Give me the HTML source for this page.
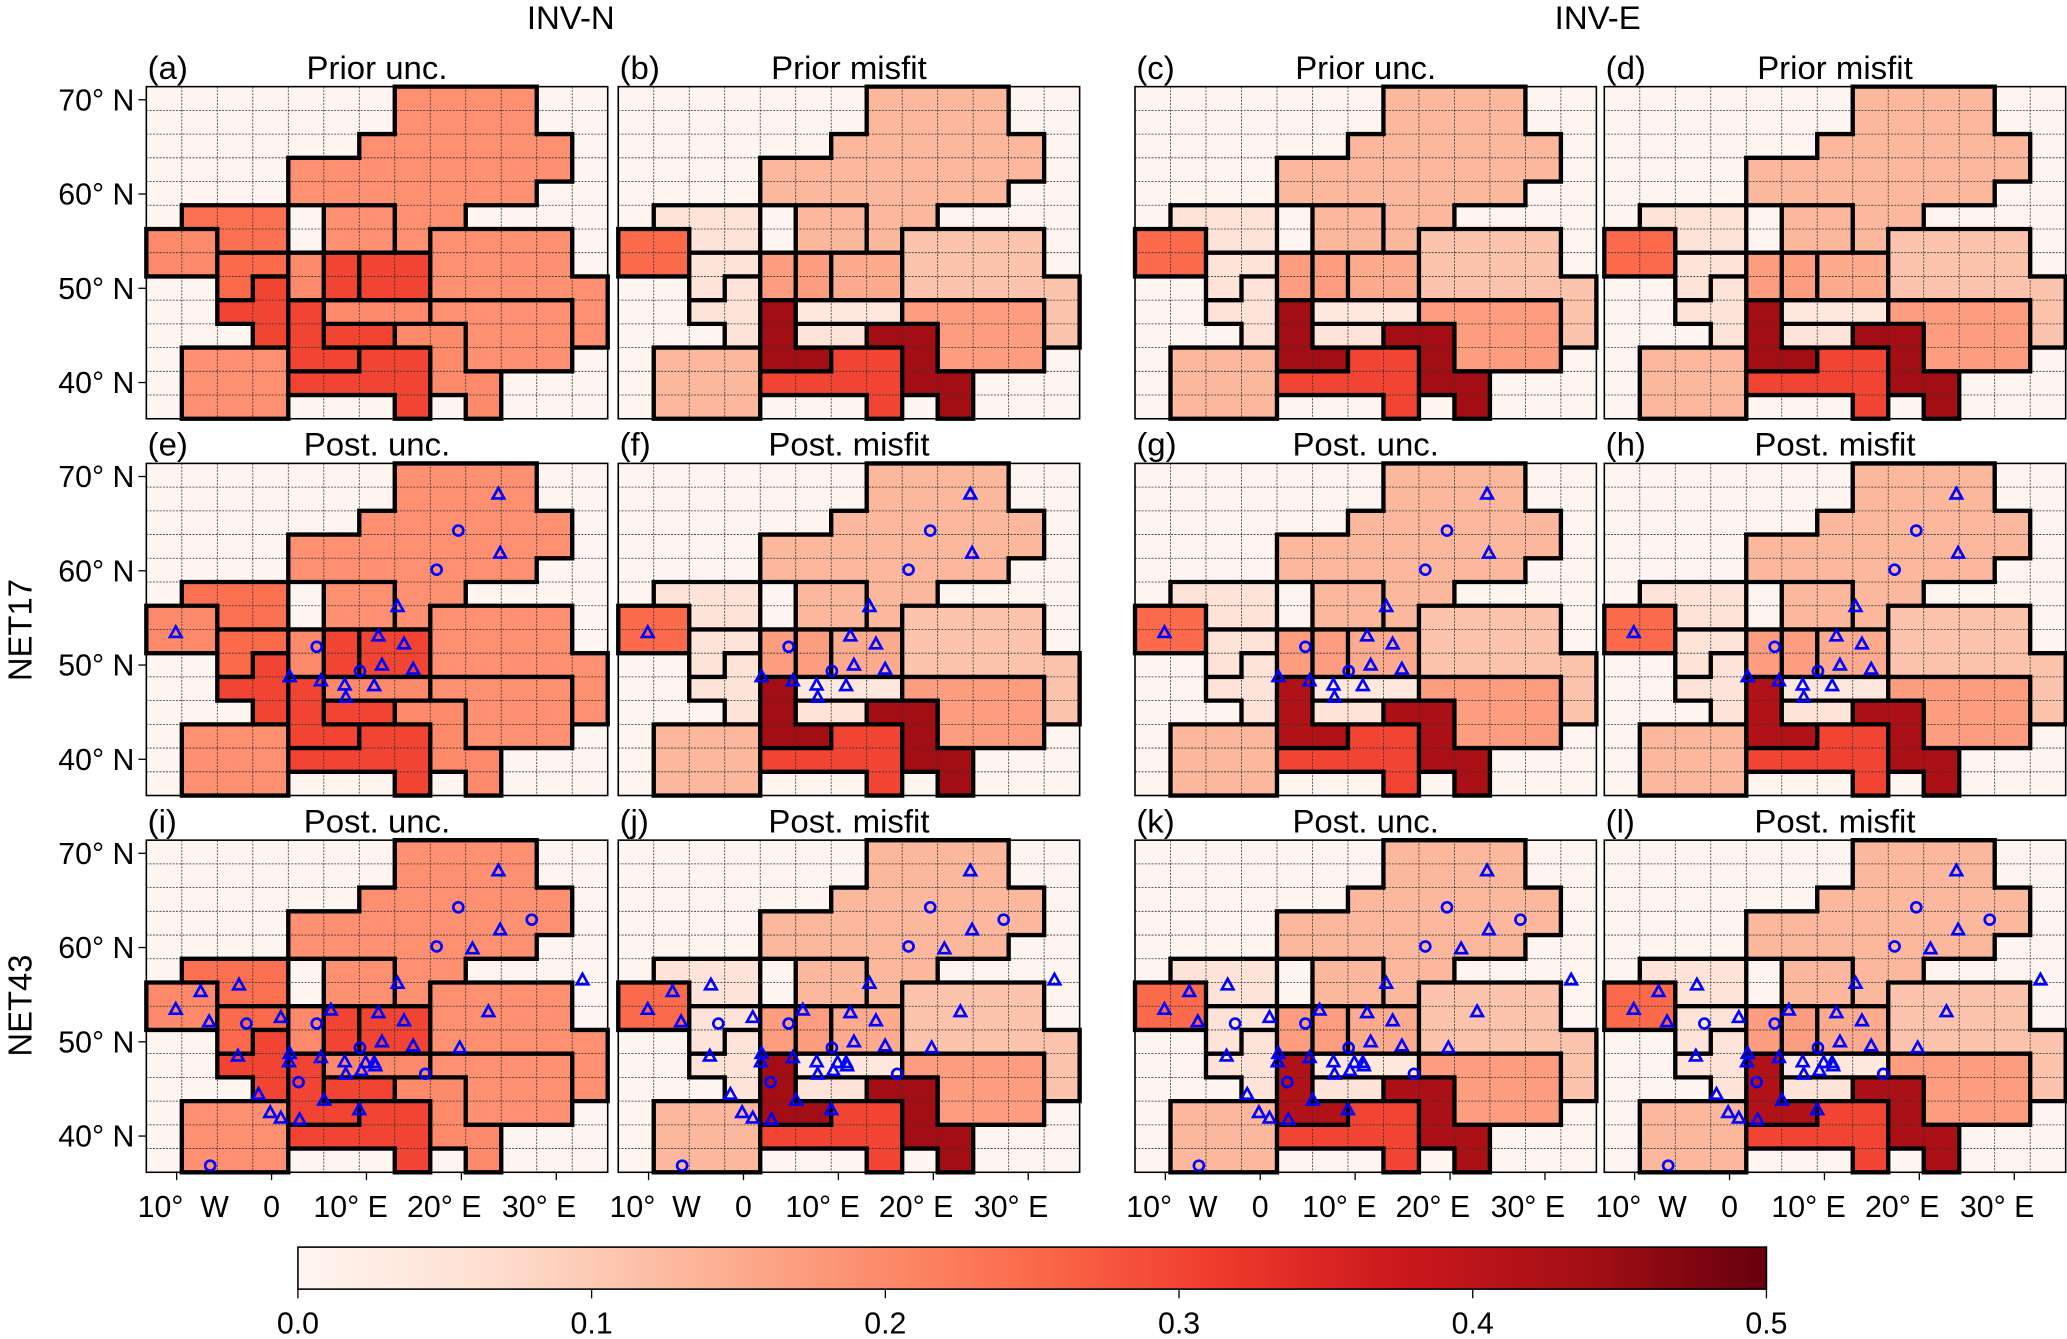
<!DOCTYPE html>
<html><head><meta charset="utf-8"><style>
html,body{margin:0;padding:0;background:#fff;}
svg{display:block;}
text{font-family:"Liberation Sans","DejaVu Sans",sans-serif;fill:#000;}
</style></head><body>
<svg id="fig" xmlns="http://www.w3.org/2000/svg" width="2067" height="1339" viewBox="0 0 1568 1020" preserveAspectRatio="none">
<defs>
<linearGradient id="reds" x1="0" x2="1" y1="0" y2="0">
<stop offset="0" stop-color="#fff5f0"/><stop offset="0.125" stop-color="#fee0d2"/><stop offset="0.25" stop-color="#fcbba1"/><stop offset="0.375" stop-color="#fc9272"/><stop offset="0.5" stop-color="#fb6a4a"/><stop offset="0.625" stop-color="#ef3b2c"/><stop offset="0.75" stop-color="#cb181d"/><stop offset="0.875" stop-color="#a50f15"/><stop offset="1" stop-color="#67000d"/>
</linearGradient>
</defs>
<text x="433" y="22" font-size="25" text-anchor="middle">INV-N</text>
<text x="1212" y="22" font-size="25" text-anchor="middle">INV-E</text>
<text transform="translate(24,480) rotate(-90)" font-size="25" text-anchor="middle">NET17</text>
<text transform="translate(24,766) rotate(-90)" font-size="25" text-anchor="middle">NET43</text>
<g id="panels"></g>
<g id="cbar"></g>
</svg>
<script>
// region names (cell spans: [row, colStart, colEnd])
const regionNames=["north","denmark","uk","ireland","south-uk","france","sw-alps","benelux","rhine","germany","alps","north-italy","italy","balkans","east","romania","iberia"];
const regionSpans=[
 [[0,7,10],[1,7,10],[2,6,11],[3,4,11],[4,4,10],[5,7,8],[6,7,7]],
 [[5,5,6],[6,5,6]],
 [[5,1,3],[6,2,3]],
 [[6,0,1],[7,0,1]],
 [[7,2,3],[8,2,2]],
 [[8,3,3],[9,2,3],[10,3,3]],
 [[9,4,4],[10,4,4],[11,4,5]],
 [[7,4,4],[8,4,4]],
 [[7,5,5],[8,5,5]],
 [[7,6,7],[8,6,7]],
 [[9,5,7]],
 [[10,5,6]],
 [[11,6,7],[12,4,7],[13,7,7]],
 [[10,7,8],[11,8,8],[12,8,9],[13,9,9]],
 [[6,8,11],[7,8,11],[8,8,12],[9,12,12],[10,12,12]],
 [[9,8,11],[10,9,11],[11,9,11]],
 [[11,1,3],[12,1,3],[13,1,3]]
];
// values per panel, region order above
const valsPriorUncN=[0.19,0.19,0.24,0.2,0.25,0.3,0.3,0.2,0.3,0.3,0.2,0.3,0.3,0.2,0.19,0.19,0.19];
const valsPriorMisfitN=[0.13,0.13,0.05,0.25,0.05,0.05,0.44,0.17,0.17,0.15,0.04,0.05,0.3,0.44,0.11,0.17,0.13];
const valsPriorUncE=[0.13,0.13,0.05,0.25,0.05,0.05,0.44,0.17,0.17,0.15,0.04,0.05,0.3,0.44,0.11,0.17,0.13];
const valsPriorMisfitE=[0.13,0.13,0.05,0.25,0.05,0.05,0.44,0.17,0.17,0.15,0.04,0.05,0.3,0.44,0.11,0.17,0.13];
const valsPostUncN17=[0.19,0.19,0.24,0.2,0.25,0.3,0.3,0.2,0.3,0.3,0.2,0.3,0.3,0.2,0.19,0.19,0.19];
const valsPostMisfitN17=[0.13,0.13,0.05,0.25,0.05,0.05,0.44,0.17,0.17,0.15,0.04,0.05,0.3,0.44,0.11,0.17,0.13];
const valsPostUncE17=[0.13,0.13,0.05,0.25,0.05,0.05,0.42,0.17,0.17,0.15,0.04,0.05,0.3,0.43,0.11,0.17,0.13];
const valsPostMisfitE17=[0.13,0.13,0.05,0.25,0.05,0.05,0.42,0.17,0.17,0.15,0.04,0.05,0.3,0.43,0.11,0.17,0.13];
const valsPostUncN43=[0.19,0.19,0.24,0.2,0.25,0.3,0.3,0.2,0.3,0.3,0.2,0.3,0.3,0.2,0.19,0.19,0.19];
const valsPostMisfitN43=[0.13,0.13,0.05,0.25,0.05,0.05,0.44,0.17,0.17,0.15,0.04,0.05,0.3,0.44,0.11,0.17,0.13];
const valsPostUncE43=[0.13,0.13,0.05,0.25,0.05,0.05,0.42,0.17,0.17,0.15,0.04,0.05,0.3,0.43,0.11,0.17,0.13];
const valsPostMisfitE43=[0.13,0.13,0.05,0.25,0.05,0.05,0.42,0.17,0.17,0.15,0.04,0.05,0.3,0.43,0.11,0.17,0.13];
// station markers: [col, row, type] in grid-cell units
const sitesNet17=[[9.92,1.3,"t"],[8.79,2.83,"c"],[9.97,3.79,"t"],[8.18,4.48,"c"],[7.08,6.04,"t"],[0.83,7.14,"t"],[4.8,7.73,"c"],[6.54,7.28,"t"],[7.26,7.62,"t"],[6.02,8.75,"c"],[6.64,8.51,"t"],[7.52,8.68,"t"],[4.04,9.0,"t"],[4.92,9.17,"t"],[5.59,9.35,"t"],[5.62,9.87,"t"],[6.42,9.38,"t"]];
const sitesNet43=[[9.92,1.3,"t"],[8.79,2.83,"c"],[10.86,3.35,"c"],[9.97,3.79,"t"],[8.18,4.48,"c"],[9.19,4.59,"t"],[12.29,5.9,"t"],[7.08,6.04,"t"],[1.53,6.39,"t"],[2.61,6.11,"t"],[0.83,7.14,"t"],[1.77,7.66,"t"],[2.82,7.73,"c"],[3.79,7.48,"t"],[4.8,7.73,"c"],[5.2,7.17,"t"],[6.54,7.28,"t"],[7.26,7.62,"t"],[9.64,7.24,"t"],[6.02,8.75,"c"],[6.64,8.51,"t"],[7.52,8.68,"t"],[8.83,8.76,"t"],[2.58,9.11,"t"],[4.04,9.0,"t"],[4.02,9.35,"t"],[4.92,9.17,"t"],[5.59,9.35,"t"],[5.62,9.87,"t"],[6.06,9.72,"t"],[6.18,9.38,"t"],[6.42,9.38,"t"],[6.45,9.52,"t"],[7.86,9.85,"c"],[4.29,10.2,"c"],[3.16,10.72,"t"],[5.01,10.97,"t"],[6.0,11.37,"t"],[3.49,11.49,"t"],[3.79,11.72,"t"],[4.32,11.79,"t"],[1.8,13.72,"c"]];
const latTicks=["70° N","60° N","50° N","40° N"];
const lonTicks=["10°  W","0","10° E","20° E","30° E"];
const cbarTicks=["0.0","0.1","0.2","0.3","0.4","0.5"];

const NS="http://www.w3.org/2000/svg";
const COLS=13, ROWS=14, PW=350, PH=253, CW=PW/COLS, CH=PH/ROWS;
const stops=["#fff5f0","#fee0d2","#fcbba1","#fc9272","#fb6a4a","#ef3b2c","#cb181d","#a50f15","#67000d"];
function hex(h){return [1,3,5].map(i=>parseInt(h.substr(i,2),16));}
function cmap(v){let t=Math.max(0,Math.min(1,v/0.5))*8;let i=Math.min(7,Math.floor(t));let f=t-i;let a=hex(stops[i]),b=hex(stops[i+1]);return "rgb("+a.map((x,k)=>Math.round(x+(b[k]-x)*f)).join(",")+")";}
function el(tag,attrs,parent){const e=document.createElementNS(NS,tag);for(const k in attrs)e.setAttribute(k,attrs[k]);parent.appendChild(e);return e;}

const panelX=[111,469,861,1217], panelY=[66,353,640];
const panels=[
 ["(a)","Prior unc.",valsPriorUncN,null],["(b)","Prior misfit",valsPriorMisfitN,null],["(c)","Prior unc.",valsPriorUncE,null],["(d)","Prior misfit",valsPriorMisfitE,null],
 ["(e)","Post. unc.",valsPostUncN17,sitesNet17],["(f)","Post. misfit",valsPostMisfitN17,sitesNet17],["(g)","Post. unc.",valsPostUncE17,sitesNet17],["(h)","Post. misfit",valsPostMisfitE17,sitesNet17],
 ["(i)","Post. unc.",valsPostUncN43,sitesNet43],["(j)","Post. misfit",valsPostMisfitN43,sitesNet43],["(k)","Post. unc.",valsPostUncE43,sitesNet43],["(l)","Post. misfit",valsPostMisfitE43,sitesNet43]
];
const grid=[];for(let r=0;r<ROWS;r++){grid.push(new Array(COLS).fill(-1));}
regionSpans.forEach((sp,id)=>sp.forEach(([r,a,b])=>{for(let c=a;c<=b;c++)grid[r][c]=id;}));
const root=document.getElementById("panels");
panels.forEach((p,pi)=>{
 const px=panelX[pi%4], py=panelY[Math.floor(pi/4)];
 const g=el("g",{},root);
 
 
 const bg=el("rect",{x:px,y:py,width:PW,height:PH,fill:"#fff5f0"},g);
 
 
 for(let r=0;r<ROWS;r++)for(let c=0;c<COLS;c++){const id=grid[r][c];if(id<0)continue;
  const cell=el("rect",{x:px+c*CW,y:py+r*CH,width:CW+0.3,height:CH+0.3,fill:cmap(p[2][id])},g);
  
  }
 let d="";for(let c=1;c<COLS;c++)d+="M"+(px+c*CW)+" "+py+"V"+(py+PH);for(let r=1;r<ROWS;r++)d+="M"+px+" "+(py+r*CH)+"H"+(px+PW);
 const gl=el("path",{d:d,stroke:"#333",'stroke-width':0.6,'stroke-dasharray':"1.5,1",fill:"none"},g);
 
 
 let b="";const id=(r,c)=>(r<0||r>=ROWS||c<0||c>=COLS)?-2:grid[r][c];
 for(let r=0;r<ROWS;r++)for(let c=0;c<COLS;c++){const a=grid[r][c];
  const rt=id(r,c+1), dn=id(r+1,c);
  if(a>=0||(rt>=0)){ if(a!==rt && !(rt===-2&&a<0)) b+="M"+(px+(c+1)*CW)+" "+(py+r*CH)+"V"+(py+(r+1)*CH);}
  if(a>=0||(dn>=0)){ if(a!==dn && !(dn===-2&&a<0)) b+="M"+(px+c*CW)+" "+(py+(r+1)*CH)+"H"+(px+(c+1)*CW);}
  if(c===0&&a>=0) b+="M"+px+" "+(py+r*CH)+"V"+(py+(r+1)*CH);
  if(r===0&&a>=0) b+="M"+(px+c*CW)+" "+py+"H"+(px+(c+1)*CW);
 }
 const bl=el("path",{d:b,stroke:"#000",'stroke-width':3.3,fill:"none",'stroke-linecap':"square"},g);
 
 
 if(p[3]){p[3].forEach(s=>{const x=px+s[0]*CW,y=py+s[1]*CH;let m;
  if(s[2]==="c"){m=el("circle",{cx:x,cy:y,r:3.8,fill:"none",stroke:"#0000ff",'stroke-width':2},g);}
  else{m=el("path",{d:"M"+x+" "+(y-4.8)+"L"+(x+4.4)+" "+(y+3.2)+"L"+(x-4.4)+" "+(y+3.2)+"Z",fill:"none",stroke:"#0000ff",'stroke-width':2},g);}
  });}
 const fr=el("rect",{x:px,y:py,width:PW,height:PH,fill:"none",stroke:"#000",'stroke-width':1.2},g);
 
 
 const lt=el("text",{x:px+1,y:py-6,'font-size':25},g);lt.textContent=p[0];
 
 
 const tt=el("text",{x:px+PW/2,y:py-6,'font-size':25,'text-anchor':"middle"},g);tt.textContent=p[1];
 
 
 if(pi%4===0){latTicks.forEach((t,i)=>{const y=py+10+i*71.8;
  const tk=el("line",{x1:px-6,x2:px,y1:y,y2:y,stroke:"#000",'stroke-width':1},g);
  
  
  const tx=el("text",{x:px-9,y:y+8,'font-size':23,'text-anchor':"end"},g);tx.textContent=t;
  
  });}
 if(pi>=8){const offs=[5,0,-12,-13,-13];lonTicks.forEach((t,i)=>{const x=px+23+i*72;
  const tk=el("line",{x1:x,x2:x,y1:py+PH,y2:py+PH+6,stroke:"#000",'stroke-width':1},g);
  
  
  const tx=el("text",{x:x+offs[i],y:py+PH+34,'font-size':23,'text-anchor':"middle",'xml:space':"preserve",style:"white-space:pre"},g);tx.textContent=t;
  
  });}
});
const cb=document.getElementById("cbar");
const CBX=226,CBW=1114,CBY=950,CBH=32;
const bar=el("rect",{x:CBX,y:CBY,width:CBW,height:CBH,fill:"url(#reds)",stroke:"#000",'stroke-width':1.2},cb);


cbarTicks.forEach((t,i)=>{const x=CBX+CBW*(parseFloat(t)/0.5);
 const tk=el("line",{x1:x,x2:x,y1:CBY+CBH,y2:CBY+CBH+7,stroke:"#000",'stroke-width':1},cb);
 
 
 const tx=el("text",{x:x,y:CBY+CBH+34,'font-size':23,'text-anchor':"middle"},cb);tx.textContent=t;
 
 });
</script>
</body></html>
